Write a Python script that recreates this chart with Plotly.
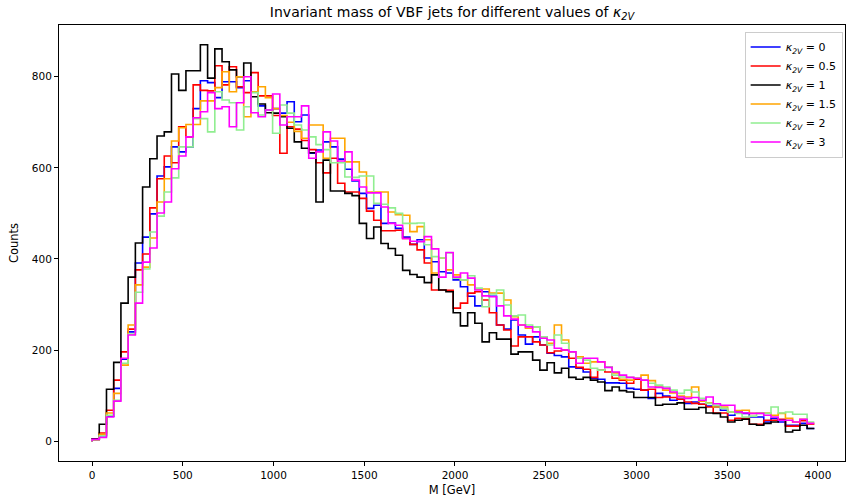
import numpy as np
import plotly.graph_objects as go

# Histogram binning (GeV)
BIN_START = 0.0
BIN_WIDTH = 39.8
N_BINS = 100

labels = ["0", "0.5", "1", "1.5", "2", "3"]
colors = ["#0000ff", "#ff0000", "#000000", "#ffa500", "#90ee90", "#ff00ff"]

counts_k0 = [3, 12, 55, 116, 180, 240, 391, 448, 499, 582, 602, 646, 635, 646, 730, 791, 787, 754, 789, 789,
             776, 791, 767, 736, 727, 730, 720, 745, 701, 716, 632, 639, 657, 646, 619, 597, 571, 544, 511, 518,
             478, 479, 467, 448, 432, 442, 402, 394, 372, 369, 354, 339, 318, 297, 328, 318, 255, 246, 266, 233,
             213, 229, 211, 193, 188, 185, 163, 160, 152, 138, 136, 128, 128, 127, 116, 114, 112, 94, 105, 99,
             90, 92, 83, 86, 81, 77, 75, 68, 57, 64, 61, 53, 53, 42, 50, 42, 35, 35, 39, 28]

counts_k05 = [3, 18, 68, 134, 196, 246, 376, 411, 512, 576, 626, 611, 690, 668, 782, 770, 769, 824, 782, 822,
              778, 765, 809, 758, 758, 715, 632, 690, 685, 660, 640, 611, 589, 621, 566, 547, 547, 533, 505, 485,
              462, 462, 463, 445, 432, 420, 391, 332, 332, 331, 292, 303, 325, 328, 310, 282, 255, 244, 209, 229,
              229, 218, 211, 194, 198, 200, 182, 162, 158, 140, 156, 152, 138, 134, 127, 136, 112, 114, 96, 97,
              96, 92, 86, 83, 81, 75, 62, 62, 46, 50, 50, 37, 37, 46, 46, 48, 33, 33, 45, 37]

counts_k1 = [5, 37, 114, 173, 303, 360, 435, 558, 620, 670, 679, 806, 770, 813, 813, 870, 797, 861, 833, 815,
             800, 830, 756, 740, 721, 720, 712, 687, 657, 643, 633, 525, 617, 549, 549, 544, 539, 478, 445, 470,
             434, 423, 408, 375, 366, 360, 348, 365, 332, 328, 282, 253, 282, 259, 218, 238, 224, 224, 191, 196,
             196, 178, 156, 172, 150, 160, 140, 136, 140, 134, 130, 111, 119, 111, 108, 96, 96, 96, 79, 81,
             81, 84, 70, 70, 74, 62, 61, 53, 42, 46, 48, 37, 35, 39, 42, 46, 20, 24, 35, 28]

counts_k15 = [3, 15, 62, 105, 167, 255, 343, 382, 446, 525, 576, 659, 688, 695, 695, 747, 747, 776, 811, 767,
              800, 712, 767, 778, 754, 730, 715, 700, 680, 665, 694, 694, 621, 665, 665, 613, 613, 591, 547, 547,
              547, 503, 497, 496, 460, 471, 442, 369, 402, 376, 365, 354, 343, 334, 334, 325, 325, 310, 273, 255,
              248, 251, 229, 215, 255, 222, 196, 185, 171, 174, 174, 163, 150, 136, 134, 138, 145, 133, 119, 112,
              106, 99, 97, 119, 88, 84, 75, 75, 64, 67, 68, 61, 62, 62, 57, 61, 50, 42, 48, 39]

counts_k2 = [3, 12, 57, 90, 171, 235, 327, 378, 459, 494, 547, 578, 646, 646, 708, 708, 679, 767, 749, 743,
             683, 734, 765, 716, 727, 676, 738, 720, 694, 683, 668, 651, 640, 611, 611, 580, 579, 582, 582, 522,
             520, 512, 500, 478, 478, 479, 431, 405, 402, 413, 358, 354, 363, 336, 295, 323, 332, 299, 275, 277,
             255, 251, 229, 211, 233, 215, 196, 182, 178, 160, 156, 163, 145, 141, 140, 138, 134, 127, 123, 119,
             112, 105, 112, 108, 94, 83, 79, 72, 64, 61, 53, 55, 61, 61, 75, 62, 64, 59, 59, 42]

counts_k3 = [4, 8, 53, 88, 182, 233, 303, 393, 424, 501, 525, 598, 626, 668, 710, 723, 765, 730, 734, 690,
             743, 800, 721, 712, 727, 762, 694, 712, 712, 736, 621, 635, 679, 659, 615, 635, 573, 558, 545, 545,
             514, 478, 474, 445, 439, 438, 449, 422, 360, 414, 360, 369, 358, 332, 319, 317, 297, 275, 268, 255,
             251, 240, 226, 222, 204, 200, 196, 171, 182, 182, 174, 162, 152, 145, 140, 138, 134, 119, 118, 116,
             108, 97, 94, 96, 90, 97, 82, 79, 79, 64, 62, 61, 61, 57, 53, 46, 46, 42, 48, 39]

all_counts = [counts_k0, counts_k05, counts_k1, counts_k15, counts_k2, counts_k3]

x_ticks = [0, 500, 1000, 1500, 2000, 2500, 3000, 3500, 4000]
y_ticks = [0, 200, 400, 600, 800]

edges = BIN_START + BIN_WIDTH * np.arange(N_BINS + 1)

FONT = "DejaVu Sans"
fig = go.Figure()
for lab, col, cnt in zip(labels, colors, all_counts):
    c = list(cnt)
    # step outline: rises from the baseline at the first edge, open at the right end
    xs = [edges[0]] + list(edges[:-1]) + [edges[-1]]
    ys = [0] + c + [c[-1]]
    fig.add_trace(go.Scatter(
        x=xs, y=ys, mode="lines", line=dict(color=col, width=1.6, shape="hv"),
        name="<i>κ</i><sub><i>2V</i></sub> = " + lab,
    ))

axis_common = dict(
    showgrid=False, zeroline=False, showline=True, mirror=True,
    linecolor="black", linewidth=1, ticks="outside", ticklen=4,
    tickcolor="black", tickwidth=1,
    tickfont=dict(family=FONT, size=10.5, color="black"),
)

fig.update_layout(
    width=846, height=502,
    margin=dict(l=59, r=1, t=25, b=41),
    paper_bgcolor="white", plot_bgcolor="white",
    font=dict(family=FONT, size=10, color="black"),
    title=dict(
        text="Invariant mass of VBF jets for different values of <i>κ</i><sub><i>2V</i></sub>",
        x=0.5, xref="paper", xanchor="center",
        y=1 - 12 / 502, yref="container", yanchor="middle",
        font=dict(family=FONT, size=14, color="black"),
    ),
    xaxis=dict(
        range=[-182, 4149], tickvals=x_ticks,
        title=dict(text="M [GeV]", standoff=6, font=dict(family=FONT, size=11.5)),
        **axis_common,
    ),
    yaxis=dict(
        range=[-43.5, 913.5], tickvals=y_ticks,
        title=dict(text="Counts", standoff=10, font=dict(family=FONT, size=11.5)),
        **axis_common,
    ),
    legend=dict(
        x=0.997, y=0.985, xanchor="right", yanchor="top",
        bgcolor="rgba(255,255,255,0.8)", bordercolor="#cccccc", borderwidth=1,
        font=dict(family=FONT, size=11, color="black"),
        itemwidth=30, tracegroupgap=0,
    ),
    showlegend=True,
)

fig.write_html("out.html")
